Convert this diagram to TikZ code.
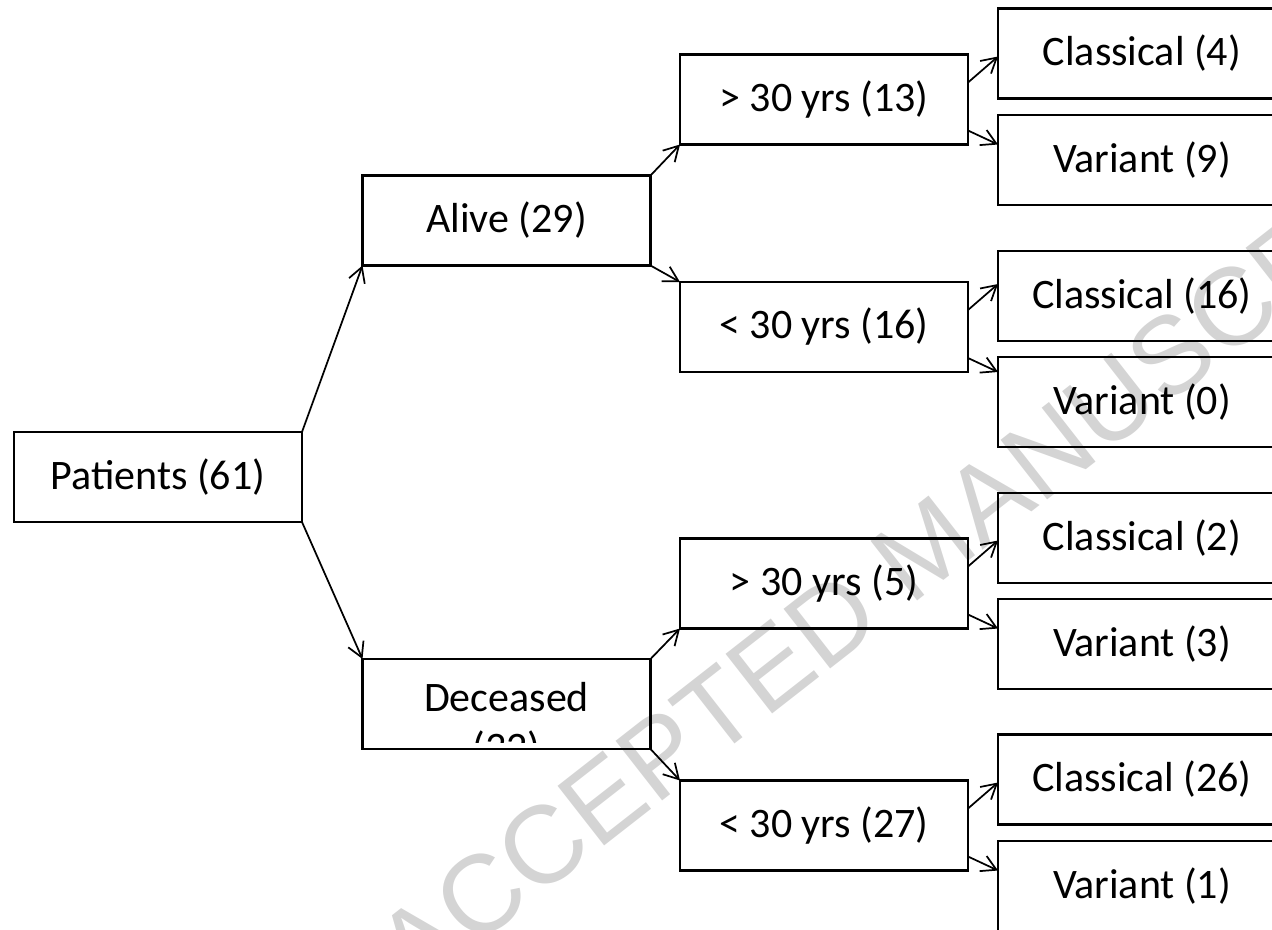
\documentclass[tikz,border=0pt]{standalone}
\usepackage{fontspec}
\setmainfont{Carlito}
\newfontfamily\wmfont{Liberation Sans}
\usetikzlibrary{arrows.meta,calc}
\begin{document}
\begin{tikzpicture}[x=0.75pt,y=-0.75pt,
  box/.style={draw,line width=2.2pt,minimum width=216pt,minimum height=67.5pt,inner sep=0pt,outer sep=0pt,font=\fontsize{31.5}{38}\selectfont},
  lbl/.style={inner sep=0pt,outer sep=0pt,font=\fontsize{31.5}{38}\selectfont},
  conn/.style={line width=1.3pt,-{Straight Barb[length=11pt,width=12.5pt,line width=1.3pt]}},
  wmark/.style={inner sep=0pt,outer sep=0pt,text=black!17,font=\wmfont\fontsize{82.5}{90}\selectfont}]
\useasboundingbox (0,0) rectangle (1272,929);
\clip (0,0) rectangle (1272,929);
% watermark
\node[wmark,rotate=38] (wm) at (925.5,546.8) {ACCEPTED MANUSCRIPT};
% level 0
\node[box] (pat) at (158,477) {Patients (61)};
% level 1
\node[box] (alive) at (506.5,220.5) {Alive (29)};
\node[box] (dec) at (506.5,704) {};
\begin{scope}
  \clip (363,659) rectangle (650,742);
  \node[lbl,anchor=base] (dect1) at (506.5,711) {Deceased};
  \node[lbl,anchor=base] (dect2) at (506.5,761) {(32)};
\end{scope}
% level 2
\node[box] (m1) at (824,99.5) {> 30 yrs (13)};
\node[box] (m2) at (824,327) {< 30 yrs (16)};
\node[box] (m3) at (824,583.5) {> 30 yrs (5)};
\node[box] (m4) at (824,825.5) {< 30 yrs (27)};
% level 3
\node[box] (c1) at (1142,53.5) {Classical (4)};
\node[box] (v1) at (1142,160) {Variant (9)};
\node[box] (c2) at (1142,296) {Classical (16)};
\node[box] (v2) at (1142,402) {Variant (0)};
\node[box] (c3) at (1142,538) {Classical (2)};
\node[box] (v3) at (1142,644) {Variant (3)};
\node[box] (c4) at (1142,779.5) {Classical (26)};
\node[box] (v4) at (1142,886) {Variant (1)};
% connectors
\draw[conn] (pat.north east) -- (alive.south west);
\draw[conn] (pat.south east) -- (dec.north west);
\draw[conn] (alive.north east) -- (m1.south west);
\draw[conn] (alive.south east) -- (m2.north west);
\draw[conn] (dec.north east) -- (m3.south west);
\draw[conn] (dec.south east) -- (m4.north west);
\foreach \m/\c/\v in {m1/c1/v1,m2/c2/v2,m3/c3/v3,m4/c4/v4}{
  \draw[conn] ($(\m.north east)+(0,28)$) -- ($(\c.west |- \m.north east)+(0,2)$);
  \draw[conn] ($(\m.south east)+(0,-14)$) -- (\v.west |- \m.south east);
}
\end{tikzpicture}
\end{document}
